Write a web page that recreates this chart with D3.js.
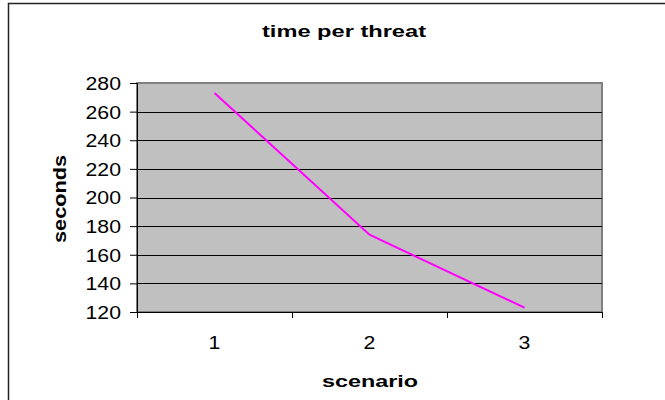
<!DOCTYPE html>
<html><head><meta charset="utf-8">
<script src="https://cdn.jsdelivr.net/npm/d3@7"></script>
<style>body{margin:0;background:#fff}svg{display:block}text{font-family:Arial,"Liberation Sans",sans-serif}</style>
</head><body><svg id="c" width="665" height="400"></svg>
<script>
const categories = ["1","2","3"];
const seconds = [273, 174, 123];
const yTicks = [120,140,160,180,200,220,240,260,280];

const svg = d3.select("#c");
const m = {l:137, r:602, t:83, b:312};

function stretch(sel, f){
  sel.each(function(){
    const l = this.getComputedTextLength();
    d3.select(this).attr("textLength", l*f).attr("lengthAdjust","spacingAndGlyphs");
  });
}

// outer frame (right/bottom cut off)
svg.append("rect").attr("x",8.5).attr("y",3.5).attr("width",700).attr("height",420)
  .attr("fill","#fff").attr("stroke","#222").attr("stroke-width",1.5);

const x = d3.scaleBand().domain(categories).range([m.l,m.r]).padding(0);
const y = d3.scaleLinear().domain([120,280]).range([m.b,m.t]);

svg.append("rect").attr("x",m.l).attr("y",m.t).attr("width",m.r-m.l).attr("height",m.b-m.t)
  .attr("fill","#c0c0c0").attr("stroke","#808080").attr("stroke-width",2);

svg.append("g").selectAll("line").data(yTicks.slice(1,-1)).join("line")
  .attr("x1",m.l).attr("x2",m.r).attr("y1",d=>Math.round(y(d))+0.5).attr("y2",d=>Math.round(y(d))+0.5)
  .attr("stroke","#000").attr("stroke-width",1);

const yAxis = svg.append("g").attr("transform",`translate(${m.l},0)`)
  .call(d3.axisLeft(y).tickValues(yTicks).tickSize(7).tickPadding(9));
yAxis.select(".domain").attr("stroke","#000");
yAxis.selectAll(".tick line").attr("stroke","#000");
yAxis.selectAll("text").attr("font-size",18).attr("fill","#000").attr("dy","0.36em").call(stretch,1.18);

const xAxis = svg.append("g").attr("transform",`translate(0,${m.b})`)
  .call(d3.axisBottom(x).tickSize(0).tickPadding(0));
xAxis.select(".domain").remove();
xAxis.selectAll("text").attr("font-size",19).attr("fill","#000").attr("dy",null).attr("y",37).call(stretch,1.12);
svg.append("line").attr("x1",m.l).attr("x2",m.r).attr("y1",m.b+0.5).attr("y2",m.b+0.5).attr("stroke","#000");
const bounds = [m.l, ...categories.slice(1).map(c=>x(c)), m.r];
svg.append("g").selectAll("line").data(bounds).join("line")
  .attr("x1",d=>Math.round(d)+0.5).attr("x2",d=>Math.round(d)+0.5).attr("y1",m.b).attr("y2",m.b+6).attr("stroke","#000");

const line = d3.line().x((d,i)=>x(categories[i])+x.bandwidth()/2).y(d=>y(d));
svg.append("path").datum(seconds).attr("d",line).attr("fill","none")
  .attr("stroke","#ff00ff").attr("stroke-width",2);

svg.append("text").attr("x",344).attr("y",37).attr("text-anchor","middle")
  .attr("font-size",17).attr("font-weight","bold").attr("textLength",164).attr("lengthAdjust","spacingAndGlyphs").text("time per threat");
svg.append("text").attr("x",370).attr("y",387).attr("text-anchor","middle")
  .attr("font-size",17).attr("font-weight","bold").attr("textLength",96).attr("lengthAdjust","spacingAndGlyphs").text("scenario");
svg.append("text").attr("transform","translate(66,199) rotate(-90)").attr("text-anchor","middle")
  .attr("font-size",18).attr("font-weight","bold").attr("textLength",88).attr("lengthAdjust","spacingAndGlyphs").text("seconds");
</script></body></html>
